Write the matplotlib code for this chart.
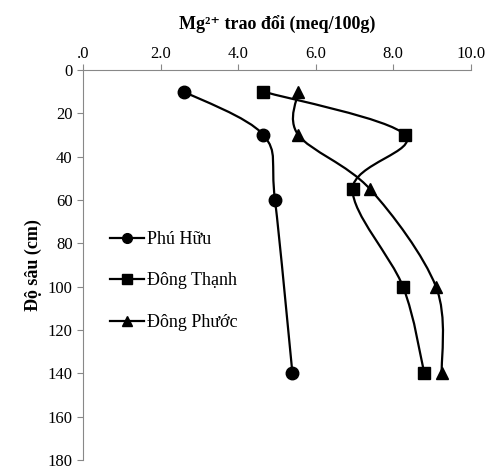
import numpy as np
import matplotlib.pyplot as plt
from matplotlib.path import Path
from matplotlib.patches import PathPatch
from matplotlib.lines import Line2D

plt.rcParams['font.family'] = ['Liberation Serif', 'DejaVu Serif']

# Dữ liệu
depth_phu_huu = [10, 30, 60, 140]
mg_phu_huu = [2.6, 4.65, 4.95, 5.4]

depth_dong_thanh = [10, 30, 55, 100, 140]
mg_dong_thanh = [4.65, 8.3, 6.95, 8.25, 8.8]

depth_dong_phuoc = [10, 30, 55, 100, 140]
mg_dong_phuoc = [5.55, 5.55, 7.4, 9.1, 9.25]

series = [
    ("Phú Hữu", mg_phu_huu, depth_phu_huu, 'o'),
    ("Đông Thạnh", mg_dong_thanh, depth_dong_thanh, 's'),
    ("Đông Phước", mg_dong_phuoc, depth_dong_phuoc, '^'),
]

x_ticks = [0, 2, 4, 6, 8, 10]
x_labels = [".0", "2.0", "4.0", "6.0", "8.0", "10.0"]
y_ticks = list(range(0, 181, 20))


def smooth_path(xs, ys):
    # duong cong Bezier kieu Catmull-Rom (giong "smoothed line" cua Excel)
    p = np.column_stack([xs, ys]).astype(float)
    p_ext = np.vstack([p[0], p, p[-1]])
    verts = [tuple(p[0])]
    codes = [Path.MOVETO]
    for i in range(1, len(p_ext) - 2):
        p0, p1, p2, p3 = p_ext[i - 1], p_ext[i], p_ext[i + 1], p_ext[i + 2]
        c1 = p1 + (p2 - p0) / 6
        c2 = p2 - (p3 - p1) / 6
        verts += [tuple(c1), tuple(c2), tuple(p2)]
        codes += [Path.CURVE4] * 3
    return Path(verts, codes)


fig = plt.figure(figsize=(4.91, 4.69), dpi=100)
ax = fig.add_axes([0.169, 0.019, 0.79, 0.832])

handles = []
for name, xs, ys, mk in series:
    patch = PathPatch(smooth_path(xs, ys), facecolor='none', edgecolor='black', lw=1.6)
    ax.add_patch(patch)
    ax.plot(xs, ys, ls='none', marker=mk, color='black', markersize=9)
    handles.append(Line2D([], [], color='black', lw=1.6, marker=mk, markersize=7, label=name))

ax.set_xlim(0, 10)
ax.set_ylim(180, 0)
ax.xaxis.tick_top()
ax.xaxis.set_label_position('top')
ax.set_xticks(x_ticks)
ax.set_xticklabels(x_labels)
ax.set_yticks(y_ticks)
ax.tick_params(axis='both', colors='#888888', labelcolor='black', labelsize=12,
               length=4, width=0.8)
ax.tick_params(axis='x', pad=2)

for s in ['right', 'bottom']:
    ax.spines[s].set_visible(False)
for s in ['top', 'left']:
    ax.spines[s].set_color('#888888')
    ax.spines[s].set_linewidth(0.8)

ax.set_xlabel("Mg²⁺ trao đổi (meq/100g)", fontsize=13, fontweight='bold', labelpad=11)
ax.set_ylabel("Độ sâu (cm)", fontsize=13, fontweight='bold', labelpad=4)

ax.legend(handles=handles, loc='center left', bbox_to_anchor=(0.07, 0.459), frameon=False,
          fontsize=13, labelspacing=1.35, handlelength=1.9, handletextpad=0.15,
          borderpad=0, borderaxespad=0)

plt.savefig("out.png", dpi=100)
